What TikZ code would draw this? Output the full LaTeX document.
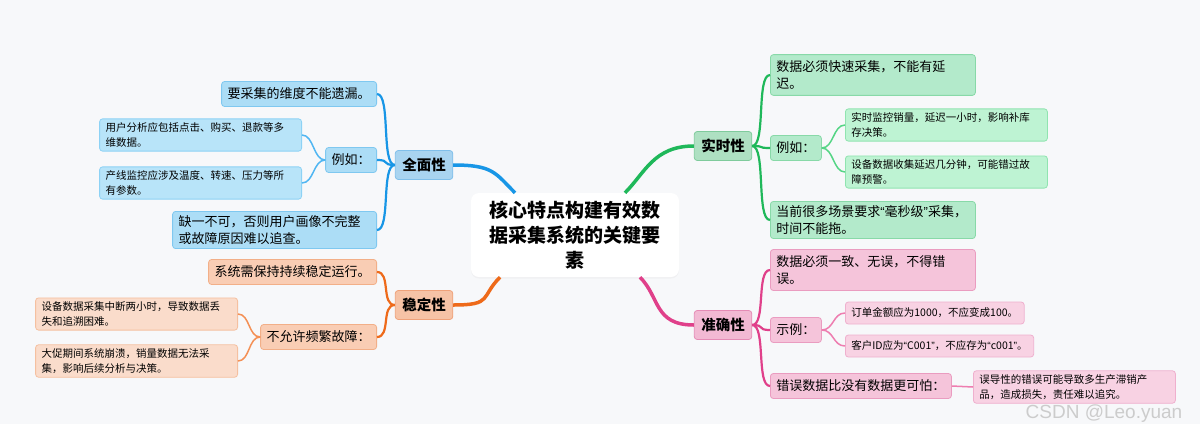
\documentclass[tikz,border=0pt]{standalone}
\usepackage{fontspec}
\setmainfont{Noto Sans CJK SC}
\newfontfamily\wmfont{Liberation Sans}
\usepackage{tikz}
\usetikzlibrary{positioning,shadows}
\definecolor{fond}{RGB}{247,248,250}
\definecolor{bleu}{RGB}{24,150,230}
\definecolor{bleul}{RGB}{80,182,242}
\definecolor{bleuA}{RGB}{169,212,240}
\definecolor{bleuAd}{RGB}{128,191,234}
\definecolor{bleuB}{RGB}{172,221,246}
\definecolor{bleuBd}{RGB}{127,200,240}
\definecolor{bleuC}{RGB}{184,228,249}
\definecolor{bleuCd}{RGB}{141,210,245}
\definecolor{vert}{RGB}{31,184,90}
\definecolor{vertl}{RGB}{85,213,133}
\definecolor{vertA}{RGB}{174,224,194}
\definecolor{vertAd}{RGB}{127,203,156}
\definecolor{vertB}{RGB}{179,234,203}
\definecolor{vertBd}{RGB}{136,217,168}
\definecolor{vertC}{RGB}{190,243,211}
\definecolor{vertCd}{RGB}{144,228,176}
\definecolor{orange}{RGB}{238,106,26}
\definecolor{orangel}{RGB}{244,144,85}
\definecolor{orangeA}{RGB}{246,195,166}
\definecolor{orangeAd}{RGB}{239,162,122}
\definecolor{orangeB}{RGB}{249,205,180}
\definecolor{orangeBd}{RGB}{242,175,136}
\definecolor{orangeC}{RGB}{250,220,203}
\definecolor{orangeCd}{RGB}{245,192,160}
\definecolor{rose}{RGB}{224,64,138}
\definecolor{rosel}{RGB}{238,125,176}
\definecolor{roseA}{RGB}{242,185,211}
\definecolor{roseAd}{RGB}{229,139,181}
\definecolor{roseB}{RGB}{245,196,218}
\definecolor{roseBd}{RGB}{234,156,192}
\definecolor{roseC}{RGB}{248,210,227}
\definecolor{roseCd}{RGB}{239,176,206}
\newcommand{\gq}[1]{{\wmfont “}#1{\wmfont ”}}

\begin{document}
\begin{tikzpicture}[x=1pt, y=-1pt,
  racine/.style={rectangle, rounded corners=8pt, fill=white, minimum width=208, minimum height=84,
                 align=center, font=\bfseries\fontsize{19}{25}\selectfont,
                 drop shadow={opacity=0.06, shadow xshift=0pt, shadow yshift=-1.5pt}},
  n1/.style 2 args={rectangle, rounded corners=3pt, draw=#1, fill=#2, line width=0.8pt,
                    font=\bfseries\fontsize{14.5}{17}\selectfont, minimum height=29, inner xsep=7},
  n2/.style 2 args={rectangle, rounded corners=3pt, draw=#1, fill=#2, line width=0.8pt,
                    font=\fontsize{13}{17}\selectfont, minimum height=25, inner xsep=6, inner ysep=4, align=left},
  n3/.style 2 args={rectangle, rounded corners=3pt, draw=#1, fill=#2, line width=0.8pt,
                    font=\fontsize{10.5}{14.5}\selectfont, minimum height=22, inner xsep=6, inner ysep=4, align=left},
  l1/.style={line width=3.5pt, draw=#1},
  l2/.style={line width=2.2pt, draw=#1},
  l3/.style={line width=1.5pt, draw=#1}]

\fill[fond] (0,0) rectangle (1200,424);
\useasboundingbox (0,0) rectangle (1200,424);

% ── centre ──
\node[racine] (racine) at (575,235) {核心特点构建有效数\\据采集系统的关键要\\素};

% ── gauche haut : 全面性 ──
\node[n1={bleuAd}{bleuA}] (qm) at (424,165) {全面性};
\node[n2={bleuBd}{bleuB}, anchor=east] (qm1) at (377,94) {要采集的维度不能遗漏。};
\node[n2={bleuBd}{bleuB}, anchor=east] (qm2) at (377,160) {例如：};
\node[n2={bleuBd}{bleuB}, anchor=east, text width=192] (qm3) at (377,230) {缺一不可，否则用户画像不完整\\或故障原因难以追查。};
\node[n3={bleuCd}{bleuC}, anchor=east, text width=190] (qm2a) at (302,135) {用户分析应包括点击、购买、退款等多\\维数据。};
\node[n3={bleuCd}{bleuC}, anchor=east, text width=190] (qm2b) at (302,183) {产线监控应涉及温度、转速、压力等所\\有参数。};

% ── gauche bas : 稳定性 ──
\node[n1={orangeAd}{orangeA}] (st) at (424,305) {稳定性};
\node[n2={orangeBd}{orangeB}, anchor=east] (st1) at (377,272) {系统需保持持续稳定运行。};
\node[n2={orangeBd}{orangeB}, anchor=east] (st2) at (377,337) {不允许频繁故障：};
\node[n3={orangeCd}{orangeC}, anchor=east, text width=190] (st2a) at (238,314) {设备数据采集中断两小时，导致数据丢\\失和追溯困难。};
\node[n3={orangeCd}{orangeC}, anchor=east, text width=190] (st2b) at (238,361) {大促期间系统崩溃，销量数据无法采\\集，影响后续分析与决策。};

% ── droite haut : 实时性 ──
\node[n1={vertAd}{vertA}] (ss) at (723,146) {实时性};
\node[n2={vertBd}{vertB}, anchor=west, text width=193, inner ysep=6] (ss1) at (770,75) {数据必须快速采集，不能有延\\迟。};
\node[n2={vertBd}{vertB}, anchor=west] (ss2) at (770,148) {例如：};
\node[n2={vertBd}{vertB}, anchor=west, text width=193] (ss3) at (770,220) {当前很多场景要求\gq{毫秒级}采集，\\时间不能拖。};
\node[n3={vertCd}{vertC}, anchor=west, text width=190] (ss2a) at (845,125) {实时监控销量，延迟一小时，影响补库\\存决策。};
\node[n3={vertCd}{vertC}, anchor=west, text width=190] (ss2b) at (845,172) {设备数据收集延迟几分钟，可能错过故\\障预警。};

% ── droite bas : 准确性 ──
\node[n1={roseAd}{roseA}] (zq) at (723,325) {准确性};
\node[n2={roseBd}{roseB}, anchor=west, text width=193, inner ysep=6] (zq1) at (770,270) {数据必须一致、无误，不得错\\误。};
\node[n2={roseBd}{roseB}, anchor=west] (zq2) at (770,330) {示例：};
\node[n2={roseBd}{roseB}, anchor=west] (zq3) at (770,386) {错误数据比没有数据更可怕：};
\node[n3={roseCd}{roseC}, anchor=west] (zq2a) at (845,313) {订单金额应为1000，不应变成100。};
\node[n3={roseCd}{roseC}, anchor=west] (zq2b) at (845,346) {客户ID应为\gq{C001}，不应存为\gq{c001}。};
\node[n3={roseCd}{roseC}, anchor=west, text width=190] (zq3a) at (973,387) {误导性的错误可能导致多生产滞销产\\品，造成损失，责任难以追究。};

% ── branches ──
\draw[l1=bleu] (qm.east) .. controls +(40,0) and +(-20,-20) .. ([xshift=-60]racine.north);
\draw[l1=orange] (st.east) .. controls +(40,0) and +(-20,20) .. ([xshift=-75]racine.south);
\draw[l1=vert] ([xshift=50]racine.north) .. controls +(20,-20) and +(-40,0) .. (ss.west);
\draw[l1=rose] ([xshift=65]racine.south) .. controls +(20,20) and +(-40,0) .. (zq.west);

\foreach \c in {qm1,qm2,qm3}
  \draw[l2=bleu] (qm.west) .. controls +(-14,0) and +(14,0) .. (\c.east);
\foreach \c in {qm2a,qm2b}
  \draw[l3=bleul] (qm2.west) .. controls +(-12,0) and +(12,0) .. (\c.east);
\foreach \c in {st1,st2}
  \draw[l2=orange] (st.west) .. controls +(-14,0) and +(14,0) .. (\c.east);
\foreach \c in {st2a,st2b}
  \draw[l3=orangel] (st2.west) .. controls +(-12,0) and +(12,0) .. (\c.east);
\foreach \c in {ss1,ss2,ss3}
  \draw[l2=vert] (ss.east) .. controls +(14,0) and +(-14,0) .. (\c.west);
\foreach \c in {ss2a,ss2b}
  \draw[l3=vertl] (ss2.east) .. controls +(12,0) and +(-12,0) .. (\c.west);
\foreach \c in {zq1,zq2,zq3}
  \draw[l2=rose] (zq.east) .. controls +(14,0) and +(-14,0) .. (\c.west);
\foreach \c in {zq2a,zq2b}
  \draw[l3=rosel] (zq2.east) .. controls +(12,0) and +(-12,0) .. (\c.west);
\draw[l3=rosel] (zq3.east) -- (zq3a.west);

% filigrane
\node[font=\wmfont\fontsize{19}{21}\selectfont, text=black!20, inner sep=0pt] (wm) at (1104,414) {CSDN @Leo.yuan};

\end{tikzpicture}
\end{document}
